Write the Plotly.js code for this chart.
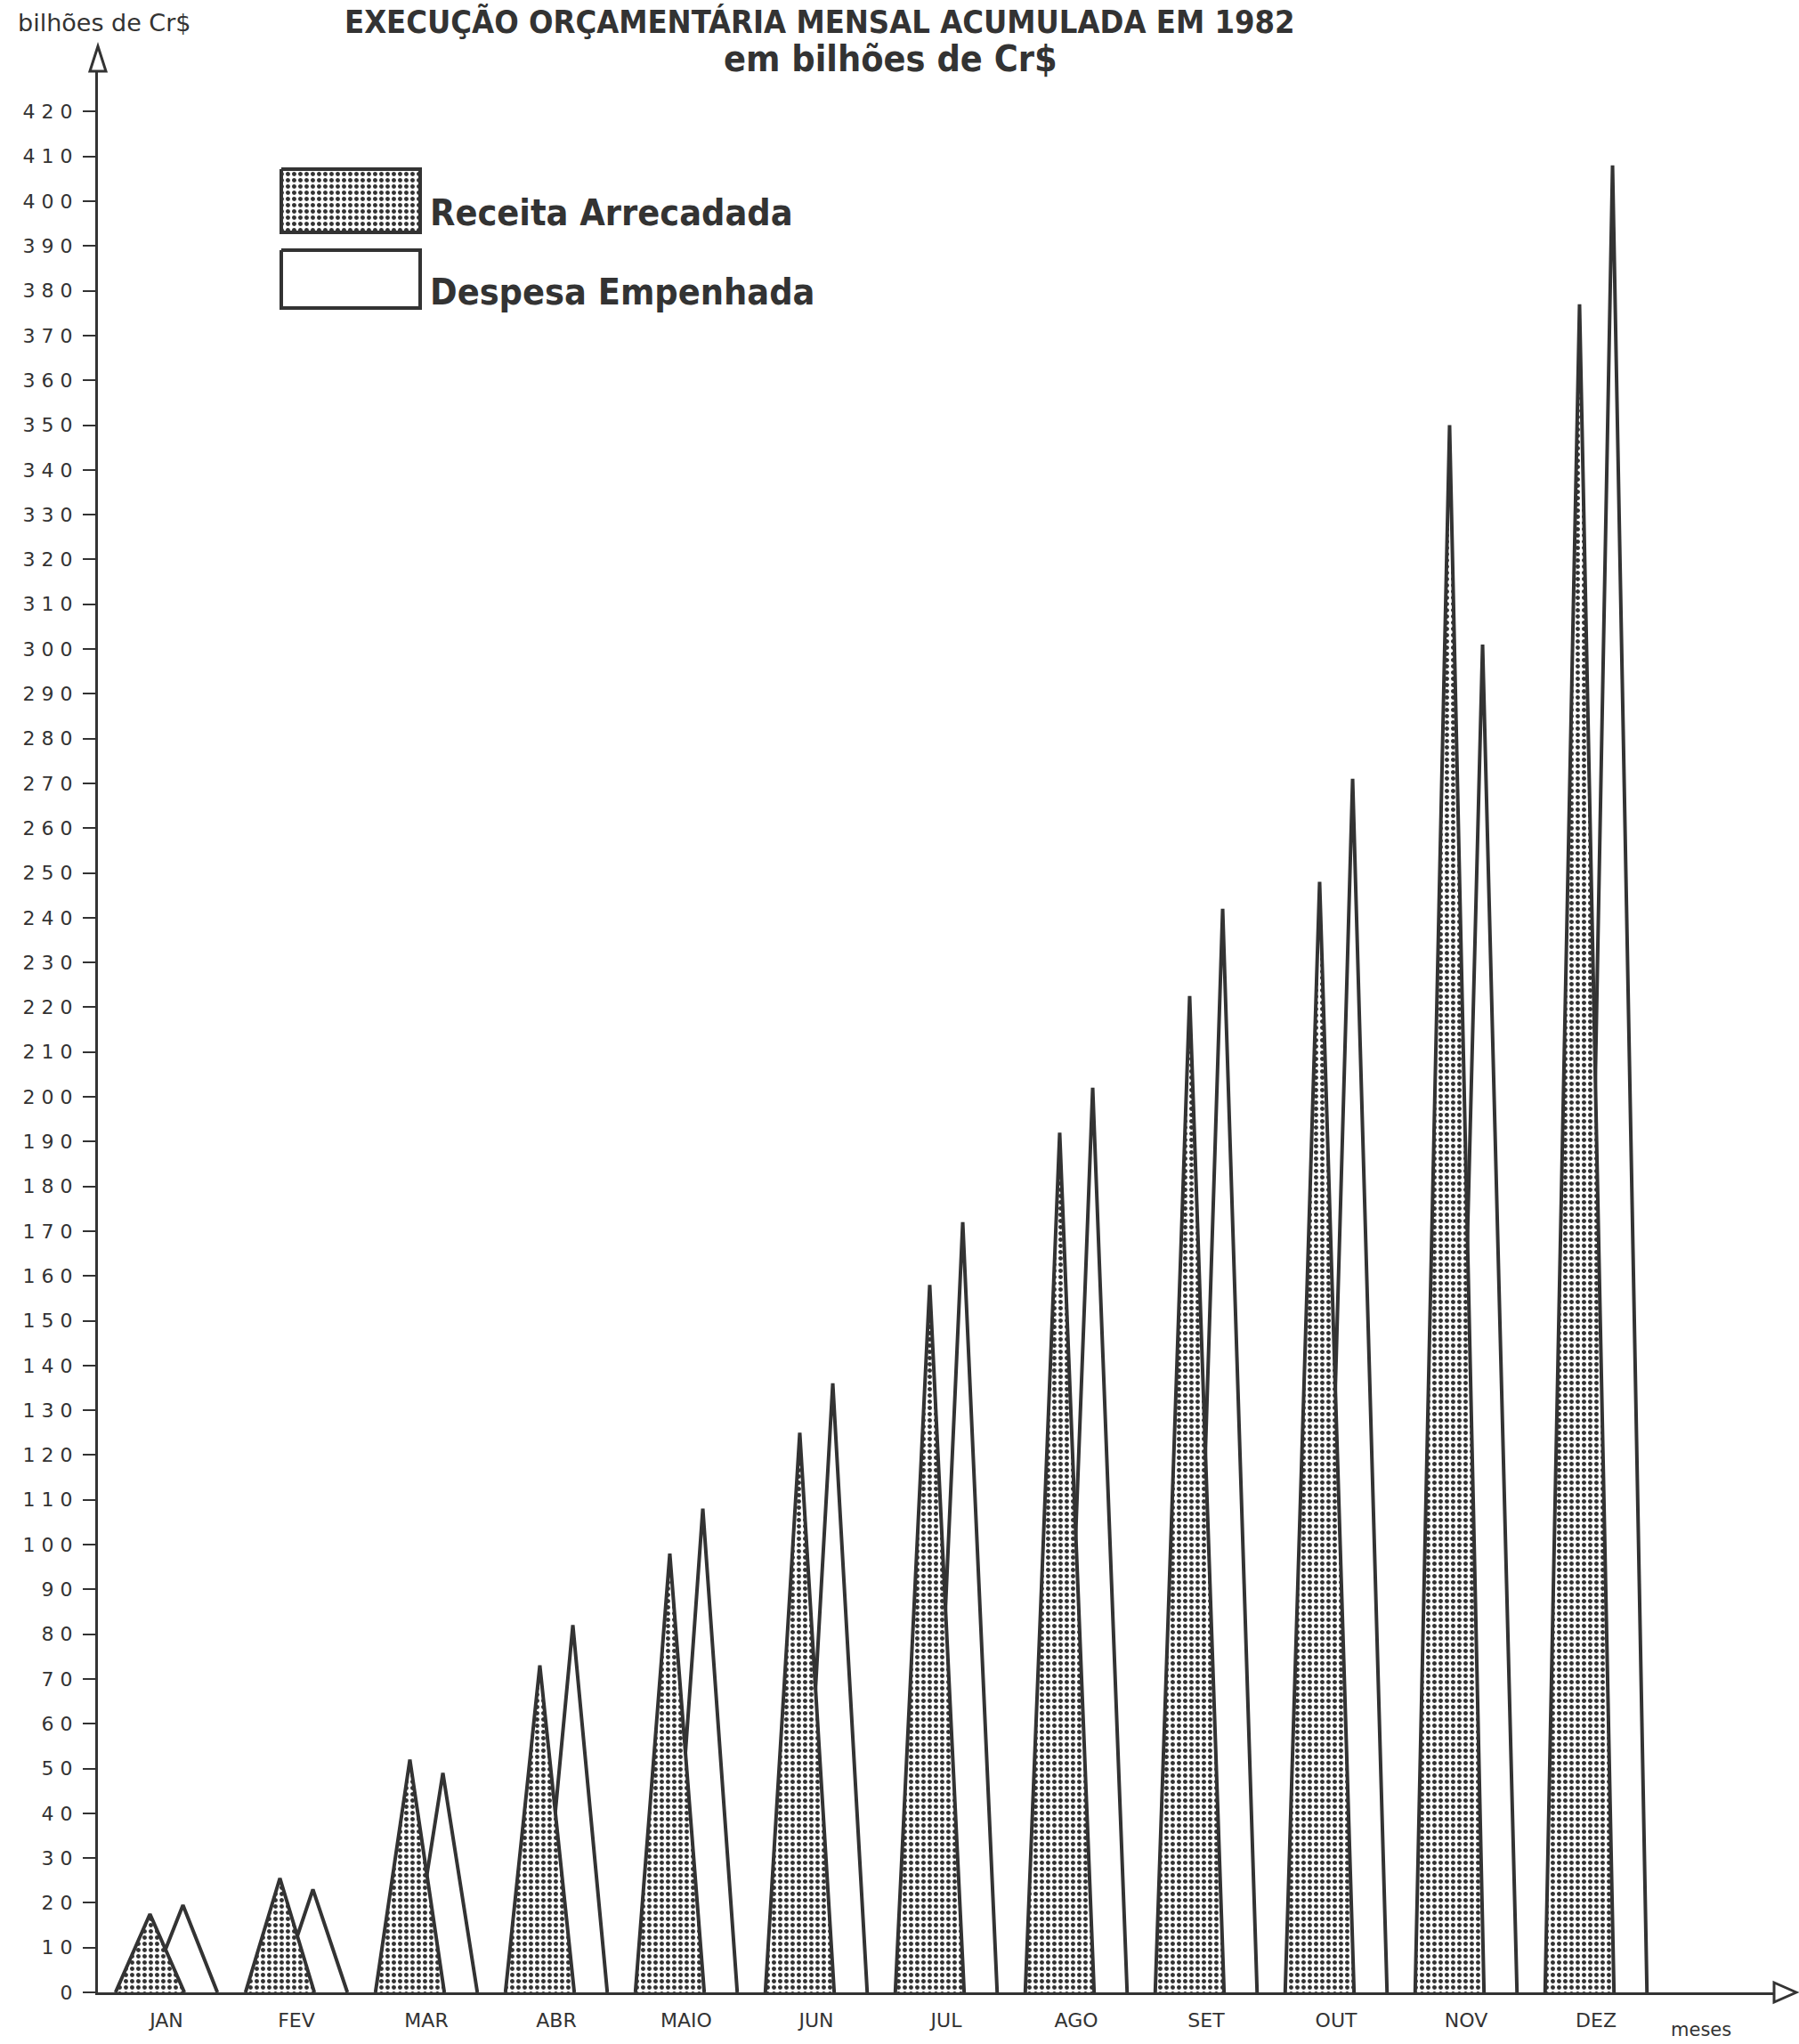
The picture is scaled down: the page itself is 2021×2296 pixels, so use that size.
<!DOCTYPE html>
<html>
<head>
<meta charset="utf-8">
<script src="https://cdn.plot.ly/plotly-3.0.1.min.js"></script>
<style>
html,body{margin:0;padding:0;background:#ffffff;}
#chart{width:2021px;height:2296px;}
.ytick text{letter-spacing:7px;}
</style>
</head>
<body>
<div id="chart"></div>
<script>
// ---- data ----
const months = ["JAN","FEV","MAR","ABR","MAIO","JUN","JUL","AGO","SET","OUT","NOV","DEZ"];
const receitaArrecadada = [17.5, 25.5, 52, 73, 98, 125, 158, 192, 222.5, 248, 350, 377];
const despesaEmpenhada  = [19.5, 23, 49, 82, 108, 136, 172, 202, 242, 271, 301, 408];
const yTickValues = [0,10,20,30,40,50,60,70,80,90,100,110,120,130,140,150,160,170,180,190,200,
  210,220,230,240,250,260,270,280,290,300,310,320,330,340,350,360,370,380,390,400,410,420];
const seriesNames = ["Receita Arrecadada","Despesa Empenhada"];
const titleTop = "EXECUÇÃO ORÇAMENTÁRIA MENSAL ACUMULADA EM 1982";
const titleSub = "em bilhões de Cr$";
const yUnit = "bilhões de Cr$";
const xUnit = "meses";

// ---- geometry / style ----
const W = 2021, H = 2296;
const M = {l:110, r:26, t:80, b:58};
const plotW = W - M.l - M.r, plotH = H - M.t - M.b;
const pxPerUnit = 5.03;
const yMax = plotH / pxPerUnit;
const monthPx = 146, firstMonthPx = 187;
const xMin = (M.l - firstMonthPx) / monthPx;
const xMax = (W - M.r - firstMonthPx) / monthPx;
const HALF = 0.265, OFF = 0.127;
const INK = "#333333";
const condensed = "'DejaVu Sans Condensed', 'Liberation Sans Narrow', 'DejaVu Sans', sans-serif";
const plain = "'DejaVu Sans', 'Liberation Sans', sans-serif";

function px(x){ return (x - M.l) / plotW; }
function py(y){ return (H - M.b - y) / plotH; }

function triangles(values, shift){
  const xs = [], ys = [];
  values.forEach((v, i) => {
    const c = i + shift;
    xs.push(c - HALF, c, c + HALF, null);
    ys.push(0, v, 0, null);
  });
  return {xs, ys};
}

const pattern = {shape: ".", size: 7, solidity: 0.4, fgcolor: INK, bgcolor: "#ffffff", fillmode: "replace"};

const dTri = triangles(despesaEmpenhada, OFF);
const rTri = triangles(receitaArrecadada, -OFF);

const traces = [
  {
    type: "scatter", mode: "lines", name: seriesNames[1],
    x: dTri.xs, y: dTri.ys, connectgaps: false,
    fill: "toself", fillcolor: "#ffffff",
    line: {color: INK, width: 4, shape: "linear"},
    hoverinfo: "skip", showlegend: false
  },
  {
    type: "scatter", mode: "lines", name: seriesNames[0],
    x: rTri.xs, y: rTri.ys, connectgaps: false,
    fill: "toself", fillpattern: pattern,
    line: {color: INK, width: 4, shape: "linear"},
    hoverinfo: "skip", showlegend: false
  }
];

// legend boxes on an overlay axis (paper-like 0..1)
function box(x0, y0, x1, y1){
  return {x: [px(x0), px(x1), px(x1), px(x0), px(x0)], y: [py(y0), py(y0), py(y1), py(y1), py(y0)]};
}
const b1 = box(316, 190, 472, 261);
const b2 = box(316, 281, 472, 346);
traces.push({
  type: "scatter", mode: "lines", x: b1.x, y: b1.y, xaxis: "x2", yaxis: "y2",
  fill: "toself", fillpattern: pattern, line: {color: INK, width: 4},
  hoverinfo: "skip", showlegend: false
});
traces.push({
  type: "scatter", mode: "lines", x: b2.x, y: b2.y, xaxis: "x2", yaxis: "y2",
  fill: "toself", fillcolor: "#ffffff", line: {color: INK, width: 4},
  hoverinfo: "skip", showlegend: false
});

const annotations = [
  {text: "<b>" + titleTop + "</b>", x: px(921), y: py(2), xref: "paper", yref: "paper",
   xanchor: "center", yanchor: "top", showarrow: false,
   font: {family: condensed, size: 36, color: INK}},
  {text: "<b>" + titleSub + "</b>", x: px(1000), y: py(66), xref: "paper", yref: "paper",
   xanchor: "center", yanchor: "middle", showarrow: false,
   font: {family: condensed, size: 41, color: INK}},
  {text: yUnit, x: px(117), y: py(25), xref: "paper", yref: "paper",
   xanchor: "center", yanchor: "middle", showarrow: false,
   font: {family: plain, size: 27, color: INK}},
  {text: "<b>" + seriesNames[0] + "</b>", x: px(481), y: py(239), xref: "paper", yref: "paper",
   xanchor: "left", yanchor: "middle", showarrow: false,
   font: {family: condensed, size: 41, color: INK}},
  {text: "<b>" + seriesNames[1] + "</b>", x: px(481), y: py(328), xref: "paper", yref: "paper",
   xanchor: "left", yanchor: "middle", showarrow: false,
   font: {family: condensed, size: 41, color: INK}},
  {text: xUnit, x: px(1911), y: py(2280), xref: "paper", yref: "paper",
   xanchor: "center", yanchor: "middle", showarrow: false,
   font: {family: plain, size: 21, color: INK}}
];

const shapes = [
  // y-axis arrow head (open)
  {type: "path", xref: "paper", yref: "paper",
   path: `M ${px(101)},${py(80)} L ${px(110)},${py(52)} L ${px(119)},${py(80)} Z`,
   line: {color: INK, width: 3}, fillcolor: "#ffffff"},
  // x-axis arrow head (open)
  {type: "path", xref: "paper", yref: "paper",
   path: `M ${px(1993)},${py(2227)} L ${px(2018)},${py(2238)} L ${px(1993)},${py(2249)} Z`,
   line: {color: INK, width: 3}, fillcolor: "#ffffff"}
];

const layout = {
  width: W, height: H,
  margin: M,
  paper_bgcolor: "#ffffff", plot_bgcolor: "#ffffff",
  showlegend: false,
  xaxis: {
    range: [xMin, xMax], showgrid: false, zeroline: false,
    showline: true, linecolor: INK, linewidth: 3,
    tickmode: "array", tickvals: months.map((m, i) => i), ticktext: months,
    ticks: "", ticklabelstandoff: 10,
    tickfont: {family: plain, size: 22, color: INK}, fixedrange: true
  },
  yaxis: {
    range: [0, yMax], showgrid: false, zeroline: false,
    showline: true, linecolor: INK, linewidth: 3,
    tickmode: "array", tickvals: yTickValues, ticktext: yTickValues.map(String),
    ticks: "outside", ticklen: 14, tickwidth: 2, tickcolor: INK,
    tickfont: {family: plain, size: 22, color: INK}, fixedrange: true
  },
  xaxis2: {overlaying: "x", range: [0, 1], visible: false, fixedrange: true},
  yaxis2: {overlaying: "y", range: [0, 1], visible: false, fixedrange: true},
  annotations: annotations,
  shapes: shapes
};

Plotly.newPlot("chart", traces, layout, {staticPlot: true, displayModeBar: false});
</script>
</body>
</html>
